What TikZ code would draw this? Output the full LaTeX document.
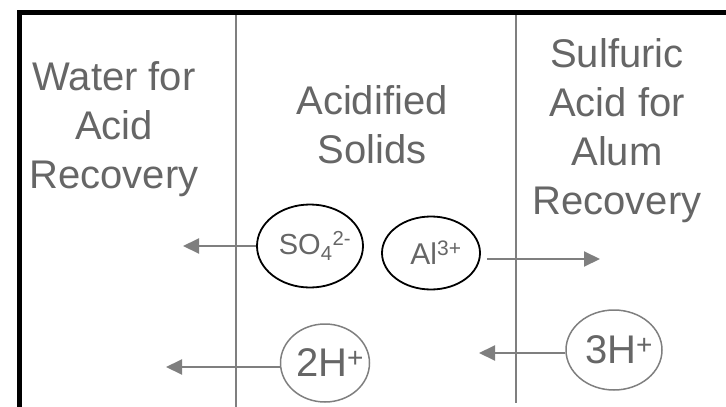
\documentclass[tikz,border=0pt]{standalone}
\usepackage{fontspec}
\setmainfont{Liberation Sans}
\usetikzlibrary{shapes.geometric, arrows.meta}
\definecolor{txtgray}{HTML}{666666}
\definecolor{linegray}{HTML}{7F7F7F}
\tikzset{
  lbl/.style={text=txtgray, font=\fontsize{40}{48}\selectfont, anchor=base, inner sep=0pt},
  ion/.style={ellipse, draw=black, line width=1.8pt, inner sep=0pt},
  iontxt/.style={text=txtgray, inner sep=0pt, xshift=5pt},
  flow/.style={draw=linegray, line width=2pt, -{Triangle[length=16pt,width=15pt]}}
}
\begin{document}
\begin{tikzpicture}[x=1pt,y=-1pt]
\useasboundingbox (0,0) rectangle (726,407);
\draw[line width=5pt, line join=miter] (19.2,407) |- (726,12.5);
\draw[linegray, line width=1.6pt] (236,15) -- (236,407);
\draw[linegray, line width=1.6pt] (516,15) -- (516,403);

\foreach \txt [count=\i] in {Water for, Acid, Recovery}
\node[lbl] (water\i) at (114,{90+49*(\i-1)}) {\txt};
\foreach \txt [count=\i] in {Acidified, Solids}
\node[lbl] (solids\i) at (372,{114+49*(\i-1)}) {\txt};
\foreach \txt [count=\i] in {Sulfuric, Acid for, Alum, Recovery}
\node[lbl] (sulfuric\i) at (617,{67+49*(\i-1)}) {\txt};

\node[ion, minimum width=106pt, minimum height=83pt,
  label={[iontxt, font=\fontsize{29}{34}\selectfont]center:SO\textsubscript{4}\textsuperscript{2-}}] (so4) at (310,246) {};
\node[ion, minimum width=98pt, minimum height=73pt,
  label={[iontxt, font=\fontsize{30}{36}\selectfont]center:Al\textsuperscript{3+}}] (al) at (431,253) {};
\node[ion, draw=linegray, line width=1.5pt, minimum width=89pt, minimum height=78pt,
  label={[iontxt, font=\fontsize{40}{48}\selectfont]center:2H\textsuperscript{+}}] (h2) at (325,363) {};
\node[ion, draw=linegray, line width=1.5pt, minimum width=96pt, minimum height=80pt,
  label={[iontxt, font=\fontsize{40}{48}\selectfont]center:3H\textsuperscript{+}}] (h3) at (614,350) {};

\coordinate (so4tip) at (183,246);
\coordinate (altip) at (600,259);
\coordinate (h2tip) at (166,367);
\coordinate (h3tip) at (479,353);
\draw[flow] (so4.west) -- (so4tip);
\draw[flow] ([xshift=6pt]al.east |- altip) -- (altip);
\draw[flow] (h2.west |- h2tip) -- (h2tip);
\draw[flow] (h3.west |- h3tip) -- (h3tip);
\end{tikzpicture}
\end{document}
